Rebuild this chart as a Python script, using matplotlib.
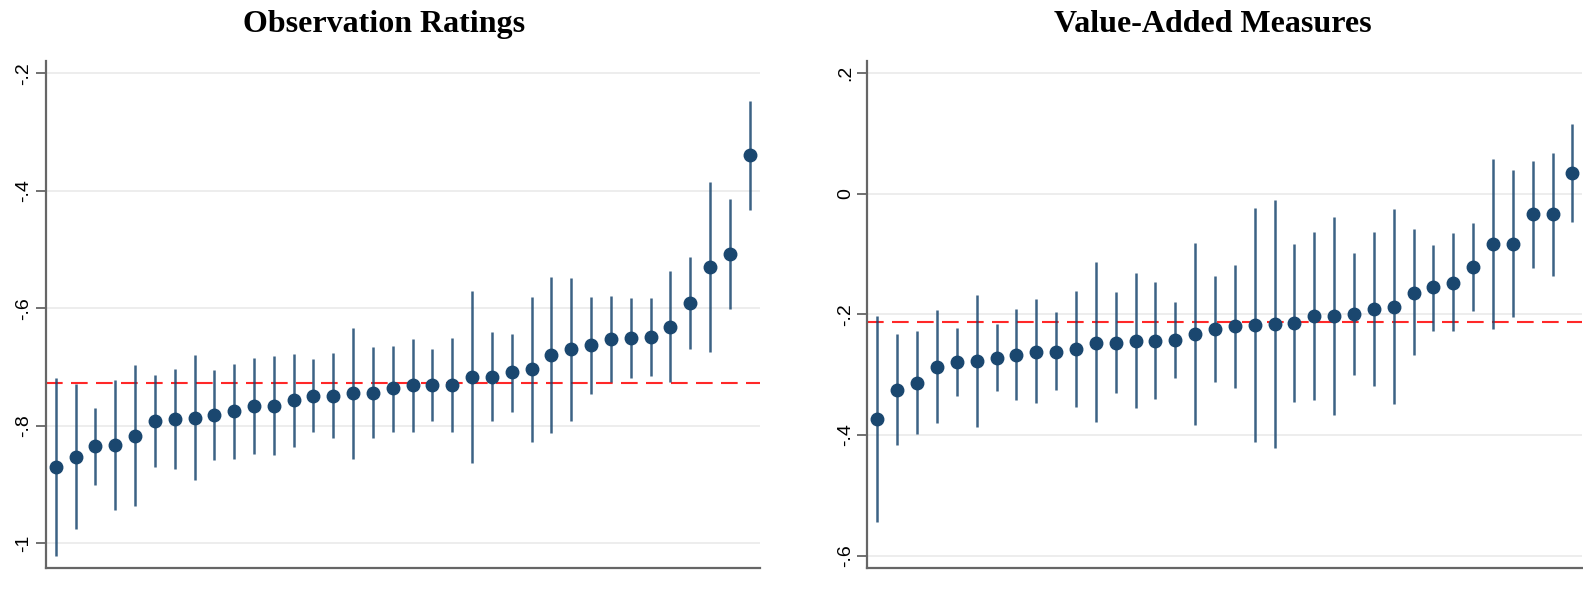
import numpy as np
import matplotlib
matplotlib.use("Agg")
import matplotlib.pyplot as plt

# Observation Ratings: point estimate, upper and lower bound (sorted)
obs_est = [-0.870, -0.853, -0.834, -0.833, -0.817, -0.791, -0.788, -0.786, -0.782, -0.775,
           -0.766, -0.766, -0.756, -0.749, -0.749, -0.744, -0.744, -0.736, -0.731, -0.731,
           -0.730, -0.717, -0.716, -0.709, -0.703, -0.679, -0.670, -0.662, -0.652, -0.650,
           -0.648, -0.631, -0.591, -0.529, -0.508, -0.339]
obs_hi = [-0.719, -0.729, -0.769, -0.722, -0.696, -0.713, -0.703, -0.679, -0.705, -0.694,
          -0.684, -0.681, -0.677, -0.687, -0.676, -0.633, -0.666, -0.664, -0.652, -0.669,
          -0.650, -0.570, -0.641, -0.643, -0.580, -0.546, -0.549, -0.580, -0.579, -0.582,
          -0.583, -0.537, -0.513, -0.385, -0.414, -0.247]
obs_lo = [-1.021, -0.976, -0.900, -0.943, -0.936, -0.870, -0.873, -0.892, -0.858, -0.856,
          -0.848, -0.850, -0.836, -0.811, -0.821, -0.856, -0.821, -0.810, -0.810, -0.792,
          -0.810, -0.864, -0.792, -0.776, -0.828, -0.812, -0.791, -0.745, -0.726, -0.719,
          -0.715, -0.726, -0.669, -0.675, -0.601, -0.433]
obs_mean = -0.7265

# Value-Added Measures
va_est = [-0.374, -0.325, -0.313, -0.287, -0.279, -0.278, -0.272, -0.267, -0.262, -0.262,
          -0.258, -0.247, -0.247, -0.244, -0.244, -0.243, -0.233, -0.225, -0.220, -0.217,
          -0.216, -0.215, -0.202, -0.202, -0.200, -0.191, -0.188, -0.164, -0.155, -0.148,
          -0.121, -0.084, -0.083, -0.034, -0.034, 0.035]
va_hi = [-0.202, -0.232, -0.227, -0.193, -0.222, -0.168, -0.216, -0.191, -0.175, -0.196,
         -0.162, -0.113, -0.163, -0.131, -0.147, -0.179, -0.082, -0.137, -0.118, -0.023,
         -0.011, -0.084, -0.064, -0.038, -0.099, -0.064, -0.026, -0.059, -0.085, -0.066,
         -0.048, 0.057, 0.039, 0.054, 0.068, 0.116]
va_lo = [-0.545, -0.417, -0.399, -0.380, -0.335, -0.387, -0.327, -0.342, -0.347, -0.326,
         -0.353, -0.379, -0.330, -0.356, -0.340, -0.306, -0.384, -0.312, -0.322, -0.412,
         -0.421, -0.346, -0.342, -0.367, -0.301, -0.319, -0.349, -0.268, -0.227, -0.228,
         -0.195, -0.225, -0.204, -0.123, -0.136, -0.047]
va_mean = -0.2135

navy = "#1a476f"

fig = plt.figure(figsize=(15.83, 5.97), dpi=100)
ax1 = fig.add_axes([0.0289, 0.049, 0.451, 0.848])
ax2 = fig.add_axes([0.548, 0.049, 0.4516, 0.848])


def panel(ax, est, hi, lo, mean, title, title_x, ylim, ticks, ticklabels):
    x = np.arange(1, len(est) + 1)
    for t in ticks:
        ax.axhline(t, color="#eaeaea", lw=1.2, zorder=0)
    ax.vlines(x, lo, hi, color=navy, lw=1.8, alpha=0.85, zorder=2)
    ax.plot(x, est, "o", color=navy, ms=9, zorder=3)
    ax.axhline(mean, color="#ff2828", lw=1.5, ls=(0, (8, 4)), zorder=1)
    ax.set_xlim(0.496, len(est) + 0.504)
    ax.set_ylim(*ylim)
    ax.set_xticks([])
    ax.set_yticks(ticks)
    ax.set_yticklabels(ticklabels, rotation=90, va="center",
                       fontsize=14, family="Liberation Sans")
    ax.tick_params(axis="y", length=7, width=1.3, color="#666666", pad=2.5)
    for s in ["top", "right"]:
        ax.spines[s].set_visible(False)
    for s in ["left", "bottom"]:
        ax.spines[s].set_color("#666666")
        ax.spines[s].set_linewidth(1.6)
    # title centred over the whole panel (labels included), as Stata does
    fig.text(title_x, 0.947, title, fontsize=23, fontweight="bold",
             family="Liberation Serif", ha="center", va="baseline")


panel(ax1, obs_est, obs_hi, obs_lo, obs_mean, "Observation Ratings", 0.2426,
      (-1.0414, -0.180), [-1.0, -0.8, -0.6, -0.4, -0.2],
      ["-1", "-.8", "-.6", "-.4", "-.2"])
panel(ax2, va_est, va_hi, va_lo, va_mean, "Value-Added Measures", 0.7663,
      (-0.620, 0.219), [-0.6, -0.4, -0.2, 0.0, 0.2],
      ["-.6", "-.4", "-.2", "0", ".2"])

fig.savefig("out.png", dpi=100)
